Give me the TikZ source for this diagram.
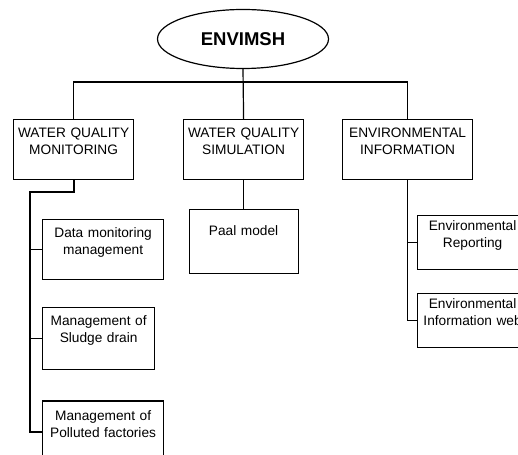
\documentclass[tikz,border=0pt]{standalone}
\usepackage{fontspec}
\setmainfont{Liberation Sans}
\usetikzlibrary{shapes.geometric, positioning}

\begin{document}
\begin{tikzpicture}[
    x=1pt, y=-1pt,
    root/.style={ellipse, draw, line width=1.2pt, minimum width=171pt, minimum height=59pt,
                 inner sep=0pt, font=\bfseries\fontsize{18.5}{22}\selectfont},
    box/.style={draw, line width=1.2pt, anchor=north west, inner sep=0pt, align=center,
                text height=18pt, text depth=42pt, font=\fontsize{13.7}{17}\selectfont},
    link/.style={line width=1.2pt},
    trunk/.style={line width=2pt}
]
    \useasboundingbox (0,0) rectangle (518,454);
    \clip (0,0) rectangle (518,454);

    \node[root] (envimsh) at (243,39) {ENVIMSH};

    \node[box, text width=120pt] (wqm) at (13,119) {WATER QUALITY\\MONITORING};
    \node[box, text width=120pt] (wqs) at (183,119) {WATER QUALITY\\SIMULATION};
    \node[box, text width=130pt] (ei) at (342,119) {ENVIRONMENTAL\\INFORMATION};

    \node[box, text width=121pt] (data) at (42,219) {Data monitoring\\management};
    \node[box, text width=112pt, text depth=44pt, below=27pt of data.south west, anchor=north west] (sludge) {Management of\\Sludge drain};
    \node[box, text width=121pt, text height=19pt, below=30pt of sludge.south west, anchor=north west] (fact) {Management of\\Polluted factories};

    \node[box, text width=109pt, text height=26pt, text depth=38pt] (paal) at (188.5,209) {Paal model};

    \node[box, text width=110pt, text height=15pt, text depth=39pt] (report) at (417,215) {Environmental\\Reporting};
    \node[box, text width=110pt, text height=15pt, text depth=39pt, below=23pt of report.south west, anchor=north west] (web) {Environmental\\Information web};

    \draw[link] (envimsh.south) -- (wqs.north);
    \draw[link] (wqm.north) -- ++(0,-37) -| (ei.north);

    \coordinate (bend) at (30,192);
    \draw[trunk] (wqm.south) |- (bend) -- (bend |- fact.west) -- (fact.west);
    \draw[link] (bend |- data.west) -- (data.west);
    \draw[link] (bend |- sludge.west) -- (sludge.west);

    \draw[link] (wqs.south) -- (paal.north);

    \draw[link] (ei.south) |- (web.west);
    \draw[link] (ei.south |- report.west) -- (report.west);
\end{tikzpicture}
\end{document}
